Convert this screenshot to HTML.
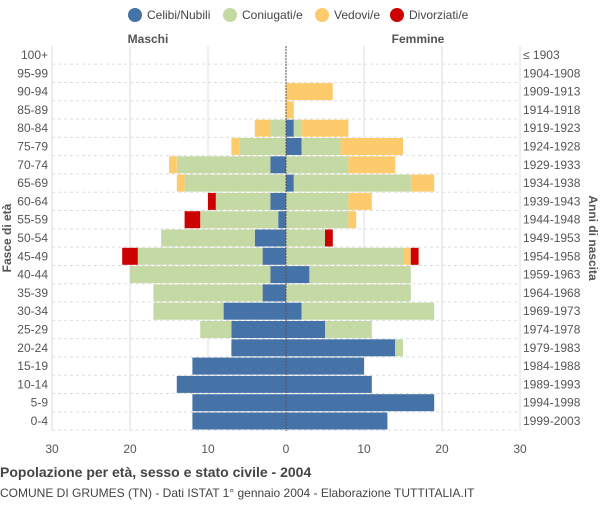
<!DOCTYPE html>
<html><head><meta charset="utf-8"><style>
body{margin:0;background:#fff;font-family:"Liberation Sans",sans-serif}
svg text{font-family:"Liberation Sans",sans-serif}
</style></head><body>
<svg id="c" width="600" height="500">
<g font-size="12" fill="#444">
<g><circle cx="135" cy="15" r="7" fill="#4572a7"/><text x="147" y="19">Celibi/Nubili</text></g>
<g><circle cx="230" cy="15" r="7" fill="#c5d9a4"/><text x="242" y="19">Coniugati/e</text></g>
<g><circle cx="322" cy="15" r="7" fill="#fdca6c"/><text x="334" y="19">Vedovi/e</text></g>
<g><circle cx="397" cy="15" r="7" fill="#cc0000"/><text x="409" y="19">Divorziati/e</text></g>
</g>
<text x="148" y="43" font-size="12" font-weight="bold" fill="#555" text-anchor="middle">Maschi</text>
<text x="418" y="43" font-size="12" font-weight="bold" fill="#555" text-anchor="middle">Femmine</text>
<text transform="translate(11,238) rotate(-90)" font-size="12" font-weight="bold" fill="#555" text-anchor="middle">Fasce di età</text>
<text transform="translate(589,238) rotate(90)" font-size="12" font-weight="bold" fill="#555" text-anchor="middle">Anni di nascita</text>
<text x="0" y="477" font-size="14" font-weight="bold" fill="#444">Popolazione per età, sesso e stato civile - 2004</text>
<text x="0" y="497" font-size="12" fill="#444">COMUNE DI GRUMES (TN) - Dati ISTAT 1° gennaio 2004 - Elaborazione TUTTITALIA.IT</text>
<g id="grid"></g><g id="bars"></g><g id="labels"></g>
</svg>
<script>
const ages=["100+","95-99","90-94","85-89","80-84","75-79","70-74","65-69","60-64","55-59","50-54","45-49","40-44","35-39","30-34","25-29","20-24","15-19","10-14","5-9","0-4"];
const births=["≤ 1903","1904-1908","1909-1913","1914-1918","1919-1923","1924-1928","1929-1933","1934-1938","1939-1943","1944-1948","1949-1953","1954-1958","1959-1963","1964-1968","1969-1973","1974-1978","1979-1983","1984-1988","1989-1993","1994-1998","1999-2003"];
const maleCelibi=[0,0,0,0,0,0,2,0,2,1,4,3,2,3,8,7,7,12,14,12,12];
const maleConiugati=[0,0,0,0,2,6,12,13,7,10,12,16,18,14,9,4,0,0,0,0,0];
const maleVedovi=[0,0,0,0,2,1,1,1,0,0,0,0,0,0,0,0,0,0,0,0,0];
const maleDivorziati=[0,0,0,0,0,0,0,0,1,2,0,2,0,0,0,0,0,0,0,0,0];
const femCelibi=[0,0,0,0,1,2,0,1,0,0,0,0,3,0,2,5,14,10,11,19,13];
const femConiugati=[0,0,0,0,1,5,8,15,8,8,5,15,13,16,17,6,1,0,0,0,0];
const femVedovi=[0,0,6,1,6,8,6,3,3,1,0,1,0,0,0,0,0,0,0,0,0];
const femDivorziati=[0,0,0,0,0,0,0,0,0,0,1,1,0,0,0,0,0,0,0,0,0];
const ticks=[-30,-20,-10,0,10,20,30];
const NS="http://www.w3.org/2000/svg";
const x=v=>286+v*7.8;
const y=i=>55+i*18.3;
function mk(tag,attrs,parent){const e=document.createElementNS(NS,tag);for(const k in attrs)e.setAttribute(k,attrs[k]);parent.appendChild(e);return e;}
const grid=document.getElementById('grid'),bars=document.getElementById('bars'),labels=document.getElementById('labels');
ticks.forEach(t=>{
 const l=mk('line',{x1:x(t),x2:x(t),y1:46,y2:431,stroke:'#ddd'},grid);
 
 
 const tx=mk('text',{x:x(t),y:453,'font-size':12,fill:'#555','text-anchor':'middle'},labels);
 tx.textContent=Math.abs(t);
 
 
});
ages.forEach((a,i)=>{
 const gl=mk('line',{x1:52,x2:520,y1:y(i)+9.15,y2:y(i)+9.15,stroke:'#ddd','stroke-dasharray':'3,3'},grid);
 
 
 const t1=mk('text',{x:48,y:y(i)+4,'font-size':12,fill:'#555','text-anchor':'end'},labels);
 t1.textContent=a;
 
 
 const t2=mk('text',{x:523,y:y(i)+4,'font-size':12,fill:'#555'},labels);
 t2.textContent=births[i];
 
 
 const cols=['#4572a7','#c5d9a4','#fdca6c','#cc0000'];
 const names=['celibi','coniugati','vedovi','divorziati'];
 const m=[maleCelibi[i],maleConiugati[i],maleVedovi[i],maleDivorziati[i]];
 const f=[femCelibi[i],femConiugati[i],femVedovi[i],femDivorziati[i]];
 let acc=0;
 m.forEach((v,k)=>{if(v>0){const r=mk('rect',{x:x(-(acc+v)),y:y(i)-8.5,width:v*7.8,height:17,fill:cols[k]},bars);
  
  }acc+=v;});
 acc=0;
 f.forEach((v,k)=>{if(v>0){const r=mk('rect',{x:x(acc),y:y(i)-8.5,width:v*7.8,height:17,fill:cols[k]},bars);
  
  }acc+=v;});
});
const z=mk('line',{x1:286,x2:286,y1:46,y2:431,stroke:'#555','stroke-dasharray':'2,1'},bars);


</script>
</body></html>
